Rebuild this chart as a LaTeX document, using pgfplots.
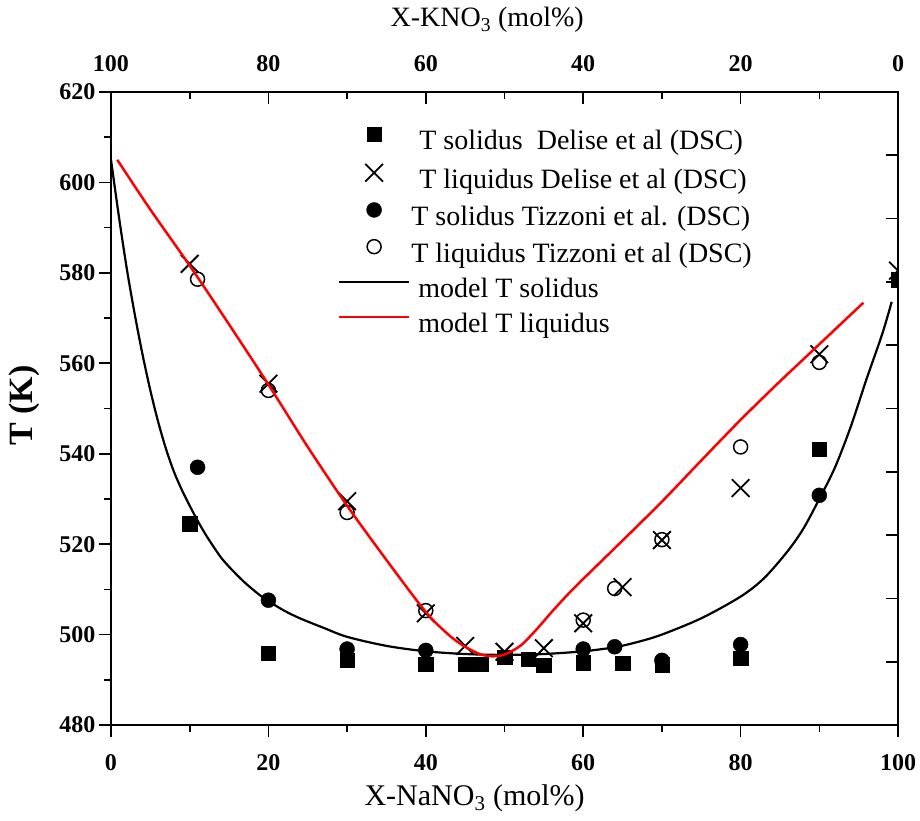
\documentclass[border=0pt]{standalone}
\usepackage{fontspec}
\setmainfont{Liberation Serif}
\usepackage{graphicx}
\usepackage{pgfplots}
\pgfplotsset{compat=1.18}
\begin{document}
\begin{tikzpicture}
\useasboundingbox (-111pt,-95pt) rectangle (809pt,725pt);
\pgfplotsset{
  markimg/.style={legend image code/.code={\draw[mark repeat=2,mark phase=2,##1,yshift=9pt] plot coordinates {(0pt,0pt) (35pt,0pt) (70pt,0pt)};}},
  lineimg/.style={legend image code/.code={\draw[##1,yshift=9pt] (0pt,0pt) -- (70pt,0pt);}},
}
\begin{axis}[
  scale only axis, width=787pt, height=633pt,
  xmin=0, xmax=100, ymin=480, ymax=620,
  xtick={0,20,...,100}, minor xtick={10,30,...,90},
  ytick={480,500,...,620}, minor ytick={490,510,...,610},
  xticklabels={0,20,40,60,80,100},
  yticklabels={480,500,520,540,560,580,600,620},
  /pgf/number format/assume math mode=true,
  tick align=outside, xtick pos=left, ytick pos=left,
  major tick length=12pt, minor tick length=7pt,
  tick style={line width=1.6pt, black},
  axis line style={line width=2pt},
  tick label style={font=\fontsize{24}{24}\selectfont\bfseries},
  xticklabel shift=14pt,
  xlabel={X-NaNO\textsubscript{3} (mol\%)},
  xlabel style={font=\fontsize{30}{30}\selectfont, at={(axis description cs:0.462,-0.127)}, anchor=base},
  ylabel={T (K)},
  ylabel style={font=\fontsize{34}{34}\selectfont\bfseries, at={(axis description cs:-0.11,0.505)}, anchor=center},
  clip marker paths=true,
  legend cell align=left,
  legend style={draw=none, fill=none, at={(axis cs:28.8,612.3)}, anchor=north west,
    font=\fontsize{28}{28}\selectfont, inner sep=0pt, row sep=6.2pt,
    nodes={inner sep=1pt, text height=20pt, text depth=7pt},
    /tikz/every odd column/.append style={column sep=0pt}},
]
% Delise solidus
\addplot[only marks, mark=square*, mark size=7.2pt, black, markimg] coordinates {
(10,524.5) (20,495.9) (30,494.3) (40,493.5) (45,493.5) (47,493.5) (50,495) (53,494.5)
(55,493.2) (60,493.8) (65,493.7) (70,493.3) (80,494.8) (90,541) (100,578.5)};
\addlegendentry{\hspace{8pt}T solidus\ \ Delise et al (DSC)}
% Delise liquidus
\addplot[only marks, mark=x, mark size=12.5pt, line width=1.8pt, black, markimg] coordinates {
(10,582) (20,555.5) (30,529.5) (40,504.7) (45,497.5) (50,496.2) (55,497) (60,502.5)
(65,510.5) (70,520.9) (80,532.4) (90,562) (100,580.5)};
\addlegendentry{\hspace{8pt}T liquidus Delise et al (DSC)}
% Tizzoni solidus
\addplot[only marks, mark=*, mark size=7.5pt, black, markimg] coordinates {
(11,537) (20,507.6) (30,496.8) (40,496.5) (60,496.8) (64,497.3) (70,494.3) (80,497.8) (90,530.8)};
\addlegendentry{T solidus Tizzoni et al. (DSC)}
% Tizzoni liquidus
\addplot[only marks, mark=o, mark size=7pt, line width=1.5pt, black, markimg] coordinates {
(11,578.6) (20,554) (30,527) (40,505.3) (60,503.2) (64,510.2) (70,521) (80,541.5) (90,560.2)};
\addlegendentry{T liquidus Tizzoni et al (DSC)}
% model solidus
\addplot[black, line width=2.2pt, smooth, lineimg] coordinates {
(0,605) (1,592.5) (2,581) (3,571) (4,562) (5,554) (6,547) (7,541) (8,536) (9,532)
(10,528.5) (11,525.2) (12,522.2) (13,519.5) (14,517) (15,515) (16,513.2) (17,511.5)
(18,510) (19,508.6) (20,507.4) (22,505.3)
(24,503.6) (27,501.5) (30,499.5) (35,497.5) (40,496.3) (45,495.7) (50,495.5) (55,495.7)
(60,496.3) (64,497.2) (67,498.4) (70,500) (75,503.6) (80,508.4) (83,512.5) (86,518.5)
(88,523.5) (90,530) (92,537) (94,546) (96,556.5) (98,566.5) (99.2,573.6)};
\addlegendentry{\hspace{7pt}model T solidus}
% model liquidus
\addplot[red, line width=2.5pt, smooth, lineimg] coordinates {
(0.8,605) (5,594) (10,581.6) (15,568.6) (20,555.3) (25,541.5) (30,528.5) (35,516.5)
(40,505) (43,499.8) (45,497.3) (47,495.6) (48.5,495.2) (50,495.6) (52,497.5) (54,501)
(56,505) (58,508.8) (60,512.3) (65,520.8) (70,529.4) (75,538.5) (80,547.5) (85,556)
(90,564.2) (95.6,573.4)};
\addlegendentry{\hspace{7pt}model T liquidus}
\end{axis}
\begin{axis}[
  scale only axis, width=787pt, height=633pt,
  xmin=0, xmax=100, ymin=480, ymax=620,
  xtick={0,20,...,100}, minor xtick={10,30,...,90},
  ytick={480,494,...,620}, yticklabels={},
  xticklabels={100,80,60,40,20,0},
  /pgf/number format/assume math mode=true,
  tick align=inside, xtick pos=right, ytick pos=right, xticklabel pos=right,
  major tick length=12pt, minor tick length=7pt,
  tick style={line width=1.6pt, black},
  axis line style={line width=2pt},
  tick label style={font=\fontsize{24}{24}\selectfont\bfseries},
  xticklabel shift=17pt,
  xlabel={X-KNO\textsubscript{3} (mol\%)},
  xlabel style={font=\fontsize{28}{28}\selectfont, at={(axis description cs:0.478,1.103)}, anchor=base},
]
\end{axis}
\end{tikzpicture}
\end{document}
